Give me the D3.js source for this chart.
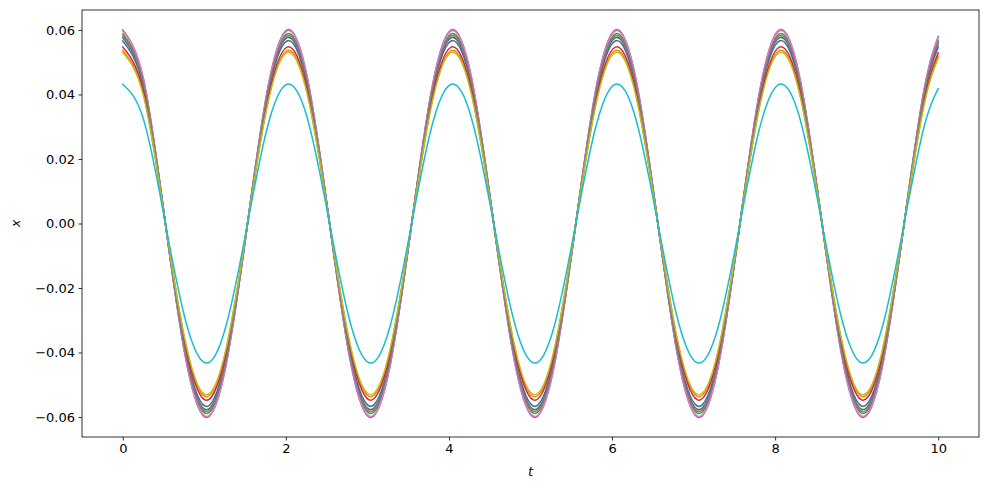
<!DOCTYPE html>
<html>
<head>
<meta charset="utf-8">
<script src="https://cdn.jsdelivr.net/npm/d3@7"></script>
<style>
  html, body { margin: 0; padding: 0; background: #fff; }
  svg { display: block; }
  text { font-family: "DejaVu Sans", sans-serif; fill: #000; }
</style>
</head>
<body>
<svg id="chart" width="989" height="490"></svg>
<script>
// ---- data ----
const tValues = [0, 0.252, 0.503, 0.755, 1.007, 1.258, 1.510, 1.761, 2.013, 2.265, 2.516, 2.768, 3.020, 3.271, 3.523, 3.774, 4.026, 4.278, 4.529, 4.781, 5.033, 5.284, 5.536, 5.787, 6.039, 6.291, 6.542, 6.794, 7.046, 7.297, 7.549, 7.800, 8.052, 8.304, 8.555, 8.807, 9.059, 9.310, 9.562, 9.813, 10];

const xBlue = [0.0566, 0.0425, 0.0035, -0.0375, -0.0566, -0.0425, -0.0035, 0.0375, 0.0566, 0.0425, 0.0035, -0.0375, -0.0566, -0.0425, -0.0035, 0.0375, 0.0566, 0.0425, 0.0035, -0.0375, -0.0566, -0.0425, -0.0035, 0.0375, 0.0566, 0.0425, 0.0035, -0.0375, -0.0566, -0.0425, -0.0035, 0.0375, 0.0566, 0.0425, 0.0035, -0.0375, -0.0566, -0.0425, -0.0035, 0.0375, 0.0547];
const xOrange = [0.0536, 0.0403, 0.0033, -0.0355, -0.0536, -0.0403, -0.0033, 0.0355, 0.0536, 0.0403, 0.0033, -0.0355, -0.0536, -0.0403, -0.0033, 0.0355, 0.0536, 0.0403, 0.0033, -0.0355, -0.0536, -0.0403, -0.0033, 0.0355, 0.0536, 0.0403, 0.0033, -0.0355, -0.0536, -0.0403, -0.0033, 0.0355, 0.0536, 0.0403, 0.0033, -0.0355, -0.0536, -0.0403, -0.0033, 0.0355, 0.0518];
const xGreen = [0.0588, 0.0442, 0.0037, -0.0389, -0.0588, -0.0442, -0.0037, 0.0389, 0.0588, 0.0442, 0.0037, -0.0389, -0.0588, -0.0442, -0.0037, 0.0389, 0.0588, 0.0442, 0.0037, -0.0389, -0.0588, -0.0442, -0.0037, 0.0389, 0.0588, 0.0442, 0.0037, -0.0389, -0.0588, -0.0442, -0.0037, 0.0389, 0.0588, 0.0442, 0.0037, -0.0389, -0.0588, -0.0442, -0.0037, 0.0389, 0.0568];
const xRed = [0.0547, 0.0411, 0.0034, -0.0362, -0.0547, -0.0411, -0.0034, 0.0362, 0.0547, 0.0411, 0.0034, -0.0362, -0.0547, -0.0411, -0.0034, 0.0362, 0.0547, 0.0411, 0.0034, -0.0362, -0.0547, -0.0411, -0.0034, 0.0362, 0.0547, 0.0411, 0.0034, -0.0362, -0.0547, -0.0411, -0.0034, 0.0362, 0.0547, 0.0411, 0.0034, -0.0362, -0.0547, -0.0411, -0.0034, 0.0362, 0.0529];
const xPurple = [0.0600, 0.0451, 0.0037, -0.0397, -0.0600, -0.0451, -0.0037, 0.0397, 0.0600, 0.0451, 0.0037, -0.0397, -0.0600, -0.0451, -0.0037, 0.0397, 0.0600, 0.0451, 0.0037, -0.0397, -0.0600, -0.0451, -0.0037, 0.0397, 0.0600, 0.0451, 0.0037, -0.0397, -0.0600, -0.0451, -0.0037, 0.0397, 0.0600, 0.0451, 0.0037, -0.0397, -0.0600, -0.0451, -0.0037, 0.0397, 0.0580];
const xBrown = [0.0576, 0.0433, 0.0036, -0.0381, -0.0576, -0.0433, -0.0036, 0.0381, 0.0576, 0.0433, 0.0036, -0.0381, -0.0576, -0.0433, -0.0036, 0.0381, 0.0576, 0.0433, 0.0036, -0.0381, -0.0576, -0.0433, -0.0036, 0.0381, 0.0576, 0.0433, 0.0036, -0.0381, -0.0576, -0.0433, -0.0036, 0.0381, 0.0576, 0.0433, 0.0036, -0.0381, -0.0576, -0.0433, -0.0036, 0.0381, 0.0557];
const xPink = [0.0597, 0.0449, 0.0037, -0.0395, -0.0597, -0.0449, -0.0037, 0.0395, 0.0597, 0.0449, 0.0037, -0.0395, -0.0597, -0.0449, -0.0037, 0.0395, 0.0597, 0.0449, 0.0037, -0.0395, -0.0597, -0.0449, -0.0037, 0.0395, 0.0597, 0.0449, 0.0037, -0.0395, -0.0597, -0.0449, -0.0037, 0.0395, 0.0597, 0.0449, 0.0037, -0.0395, -0.0597, -0.0449, -0.0037, 0.0395, 0.0577];
const xGray = [0.0582, 0.0437, 0.0036, -0.0385, -0.0582, -0.0437, -0.0036, 0.0385, 0.0582, 0.0437, 0.0036, -0.0385, -0.0582, -0.0437, -0.0036, 0.0385, 0.0582, 0.0437, 0.0036, -0.0385, -0.0582, -0.0437, -0.0036, 0.0385, 0.0582, 0.0437, 0.0036, -0.0385, -0.0582, -0.0437, -0.0036, 0.0385, 0.0582, 0.0437, 0.0036, -0.0385, -0.0582, -0.0437, -0.0036, 0.0385, 0.0563];
const xOlive = [0.0530, 0.0398, 0.0033, -0.0351, -0.0530, -0.0398, -0.0033, 0.0351, 0.0530, 0.0398, 0.0033, -0.0351, -0.0530, -0.0398, -0.0033, 0.0351, 0.0530, 0.0398, 0.0033, -0.0351, -0.0530, -0.0398, -0.0033, 0.0351, 0.0530, 0.0398, 0.0033, -0.0351, -0.0530, -0.0398, -0.0033, 0.0351, 0.0530, 0.0398, 0.0033, -0.0351, -0.0530, -0.0398, -0.0033, 0.0351, 0.0512];
const xCyan = [0.0432, 0.0325, 0.0027, -0.0286, -0.0432, -0.0325, -0.0027, 0.0286, 0.0432, 0.0325, 0.0027, -0.0286, -0.0432, -0.0325, -0.0027, 0.0286, 0.0432, 0.0325, 0.0027, -0.0286, -0.0432, -0.0325, -0.0027, 0.0286, 0.0432, 0.0325, 0.0027, -0.0286, -0.0432, -0.0325, -0.0027, 0.0286, 0.0432, 0.0325, 0.0027, -0.0286, -0.0432, -0.0325, -0.0027, 0.0286, 0.0418];

const seriesList = [xBlue, xOrange, xGreen, xRed, xPurple, xBrown, xPink, xGray, xOlive, xCyan];
const seriesColors = ["#1f77b4", "#ff7f0e", "#2ca02c", "#d62728", "#9467bd", "#8c564b", "#e377c2", "#7f7f7f", "#bcbd22", "#17becf"];

const xTicks = [0, 2, 4, 6, 8, 10];
const xTickLabels = ["0", "2", "4", "6", "8", "10"];
const yTicks = [-0.06, -0.04, -0.02, 0.00, 0.02, 0.04, 0.06];
const yTickLabels = ["\u22120.06", "\u22120.04", "\u22120.02", "0.00", "0.02", "0.04", "0.06"];

// ---- layout ----
const svg = d3.select("#chart");
const pL = 82, pR = 979, pT = 10, pB = 437;

const x = d3.scaleLinear().domain([-0.5, 10.5]).range([pL, pR]);
const y = d3.scaleLinear().domain([-0.0662, 0.0662]).range([pB, pT]);

svg.append("defs").append("clipPath").attr("id", "plotclip")
  .append("rect").attr("x", pL).attr("y", pT).attr("width", pR - pL).attr("height", pB - pT);

const line = d3.line()
  .x((d, i) => x(tValues[i]))
  .y(d => y(d))
  .curve(d3.curveNatural);

const g = svg.append("g").attr("clip-path", "url(#plotclip)");
seriesList.forEach((s, i) => {
  g.append("path")
    .attr("d", line(s))
    .attr("fill", "none")
    .attr("stroke", seriesColors[i])
    .attr("stroke-width", 1.5)
    .attr("stroke-linejoin", "round")
    .attr("stroke-linecap", "square");
});

// axes
const xAxis = d3.axisBottom(x).tickValues(xTicks).tickFormat((d, i) => xTickLabels[i]).tickSizeInner(3.5).tickSizeOuter(0).tickPadding(3.5);
const yAxis = d3.axisLeft(y).tickValues(yTicks).tickFormat((d, i) => yTickLabels[i]).tickSizeInner(3.5).tickSizeOuter(0).tickPadding(3.5);

const gx = svg.append("g").attr("transform", `translate(0,${pB})`).call(xAxis);
const gy = svg.append("g").attr("transform", `translate(${pL},0)`).call(yAxis);
[gx, gy].forEach(a => {
  a.select(".domain").remove();
  a.selectAll(".tick line").attr("stroke", "#000").attr("stroke-width", 0.8);
  a.selectAll(".tick text").attr("font-family", "DejaVu Sans, sans-serif").attr("font-size", 13).attr("fill", "#000");
});

// frame
svg.append("rect").attr("x", pL).attr("y", pT).attr("width", pR - pL).attr("height", pB - pT)
  .attr("fill", "none").attr("stroke", "#000").attr("stroke-width", 0.8);

// axis labels
svg.append("text").attr("x", (pL + pR) / 2).attr("y", 476)
  .attr("text-anchor", "middle").attr("font-size", 13).attr("font-style", "italic").text("t");
svg.append("text").attr("transform", `translate(20,${(pT + pB) / 2}) rotate(-90)`)
  .attr("text-anchor", "middle").attr("font-size", 13).attr("font-style", "italic").text("x");
</script>
</body>
</html>
